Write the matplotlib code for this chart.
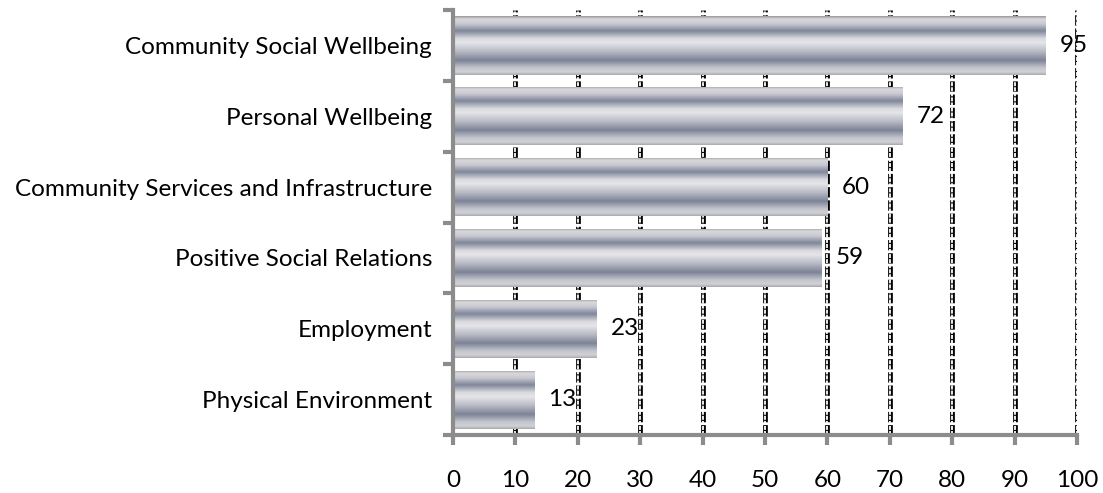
import numpy as np
import matplotlib
matplotlib.use("Agg")
import matplotlib.pyplot as plt
from matplotlib.colors import LinearSegmentedColormap

categories = ["Community Social Wellbeing", "Personal Wellbeing",
              "Community Services and Infrastructure", "Positive Social Relations",
              "Employment", "Physical Environment"]
values = [95, 72, 60, 59, 23, 13]
xticks = [0, 10, 20, 30, 40, 50, 60, 70, 80, 90, 100]

plt.rcParams['font.family'] = ['Lato', 'DejaVu Sans']
FS = 17.5

fig = plt.figure(figsize=(11.03, 4.93), dpi=100)
ax = fig.add_axes([0.4107, 0.1176, 0.5657, 0.862])

n = len(categories)
ypos = np.arange(n)[::-1]  # first category on top
ax.set_ylim(-0.5, n - 0.5)
ax.set_xlim(0, 100)

# gridlines (double dashed look)
for xt in xticks[1:]:
    ax.axvline(xt, color='black', lw=3.4, ls=(0, (2.2, 0.6)), zorder=1)
    ax.axvline(xt, color='white', lw=1.3, ls=(0, (2.2, 0.6)), zorder=1.1)

stops = [(0.0, '#a9a9ad'), (0.05, '#d0d1d6'), (0.12, '#c4c6cd'), (0.25, '#7d8397'),
         (0.40, '#b8bac4'), (0.55, '#e6e6ea'), (0.62, '#d9dade'), (0.75, '#80869a'),
         (0.87, '#c9cad1'), (0.95, '#d8d8dc'), (1.0, '#9a9a9c')]
cmap = LinearSegmentedColormap.from_list('metal', stops)
grad = np.linspace(0, 1, 256).reshape(-1, 1)

h = 0.82
bars = ax.barh(ypos, values, height=h, color='none', edgecolor='none', zorder=2)
for b in bars:
    x0, y0 = b.get_x(), b.get_y()
    w, hh = b.get_width(), b.get_height()
    im = ax.imshow(grad, cmap=cmap, aspect='auto',
                   extent=[x0, x0 + w, y0, y0 + hh], origin='lower',
                   zorder=2, interpolation='bilinear')
    im.set_clip_path(b)
ax.set_xlim(0, 100)
ax.set_ylim(-0.5, n - 0.5)

for y, v in zip(ypos, values):
    ax.text(v + 2.3, y, str(v), va='center', ha='left', fontsize=FS,
            color='black', zorder=5)

ax.set_yticks(np.arange(-0.5, n, 1.0))
ax.set_yticklabels([])
ax.set_yticks(ypos, minor=True)
ax.set_yticklabels(categories, minor=True, fontsize=FS)
ax.tick_params(axis='y', which='minor', length=0, pad=15)
ax.tick_params(axis='y', which='major', length=7, width=3, color='#8c8c8c', direction='out')

ax.set_xticks(xticks)
ax.set_xticklabels([str(t) for t in xticks], fontsize=FS)
ax.tick_params(axis='x', length=7, width=3, color='#8c8c8c', direction='out', pad=18)

for s in ['top', 'right']:
    ax.spines[s].set_visible(False)
for s in ['left', 'bottom']:
    ax.spines[s].set_color('#8c8c8c')
    ax.spines[s].set_linewidth(3)
    ax.spines[s].set_zorder(6)

fig.savefig('out.png', dpi=100)
